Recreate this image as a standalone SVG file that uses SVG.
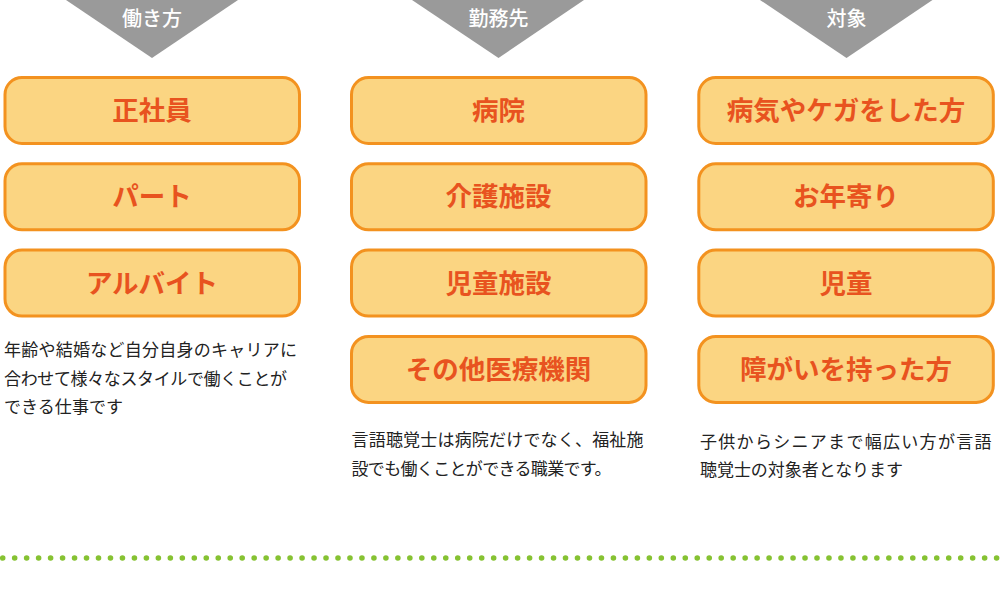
<svg xmlns="http://www.w3.org/2000/svg" width="1000" height="596" viewBox="0 0 1000 596">
<style>
.tri{fill:#9a9a9a}
.hd{font-family:"Noto Sans CJK JP","Noto Sans",sans-serif;font-size:20px;font-weight:500;fill:#ffffff;text-anchor:middle}
.box{fill:#fbd582;stroke:#f3921f;stroke-width:3}
.bt{font-family:"Noto Sans CJK JP","Noto Sans",sans-serif;font-size:26.5px;font-weight:700;fill:#e8531f;text-anchor:middle}
.ds{font-family:"Noto Sans CJK JP","Noto Sans",sans-serif;font-size:17px;font-weight:400;fill:#222222}
</style>
<rect width="1000" height="596" fill="#ffffff"/>
<g id="head-1"><polygon class="tri" points="66,0 238,0 152,58"/><text class="hd" x="152" y="25.5">働き方</text></g>
<g id="head-2"><polygon class="tri" points="412,0 584,0 498.5,58"/><text class="hd" x="498.5" y="25.5">勤務先</text></g>
<g id="head-3"><polygon class="tri" points="760,0 932.5,0 846.5,58"/><text class="hd" x="846.5" y="25.5">対象</text></g>

<g id="n1-1"><rect class="box" x="5" y="77.5" width="294.5" height="66" rx="17"/><text class="bt" x="152" y="120">正社員</text></g>
<g id="n1-2"><rect class="box" x="5" y="163.8" width="294.5" height="66" rx="17"/><text class="bt" x="152" y="206.3">パート</text></g>
<g id="n1-3"><rect class="box" x="5" y="250.1" width="294.5" height="66" rx="17"/><text class="bt" x="152" y="292.6">アルバイト</text></g>

<g id="n2-1"><rect class="box" x="351.5" y="77.5" width="294.5" height="66" rx="17"/><text class="bt" x="498.5" y="120">病院</text></g>
<g id="n2-2"><rect class="box" x="351.5" y="163.8" width="294.5" height="66" rx="17"/><text class="bt" x="498.5" y="206.3">介護施設</text></g>
<g id="n2-3"><rect class="box" x="351.5" y="250.1" width="294.5" height="66" rx="17"/><text class="bt" x="498.5" y="292.6">児童施設</text></g>
<g id="n2-4"><rect class="box" x="351.5" y="336.4" width="294.5" height="66" rx="17"/><text class="bt" x="498.5" y="378.9">その他医療機関</text></g>

<g id="n3-1"><rect class="box" x="698.8" y="77.5" width="294.5" height="66" rx="17"/><text class="bt" x="846" y="120">病気やケガをした方</text></g>
<g id="n3-2"><rect class="box" x="698.8" y="163.8" width="294.5" height="66" rx="17"/><text class="bt" x="846" y="206.3">お年寄り</text></g>
<g id="n3-3"><rect class="box" x="698.8" y="250.1" width="294.5" height="66" rx="17"/><text class="bt" x="846" y="292.6">児童</text></g>
<g id="n3-4"><rect class="box" x="698.8" y="336.4" width="294.5" height="66" rx="17"/><text class="bt" x="846" y="378.9">障がいを持った方</text></g>

<g id="desc-1" class="ds">
<text x="4" y="356" textLength="293" lengthAdjust="spacing">年齢や結婚など自分自身のキャリアに</text>
<text x="4" y="384.5" textLength="283" lengthAdjust="spacing">合わせて様々なスタイルで働くことが</text>
<text x="4" y="413" textLength="119" lengthAdjust="spacing">できる仕事です</text>
</g>
<g id="desc-2" class="ds">
<text x="351.5" y="446" textLength="292" lengthAdjust="spacing">言語聴覚士は病院だけでなく、福祉施</text>
<text x="351.5" y="474.5" textLength="260" lengthAdjust="spacing">設でも働くことができる職業です。</text>
</g>
<g id="desc-3" class="ds">
<text x="700" y="447.5" textLength="291.5" lengthAdjust="spacing">子供からシニアまで幅広い方が言語</text>
<text x="700" y="476" textLength="203" lengthAdjust="spacing">聴覚士の対象者となります</text>
</g>

<g id="connectors"></g>
<line x1="2.7" y1="558" x2="997" y2="558" stroke="#86c232" stroke-width="5.6" stroke-linecap="round" stroke-dasharray="0 11.975"/>
</svg>
